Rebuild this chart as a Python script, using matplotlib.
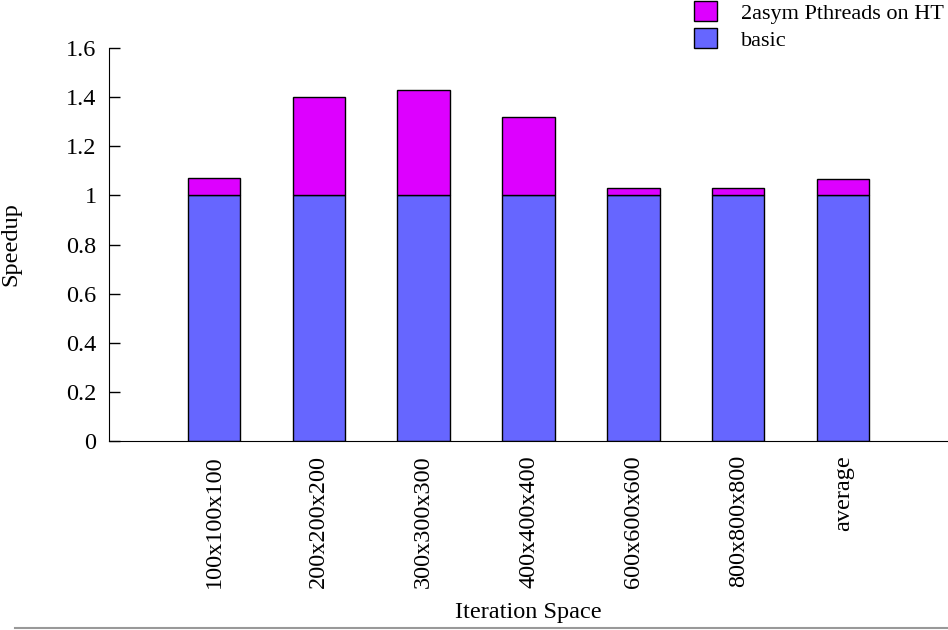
import numpy as np
import matplotlib.pyplot as plt
from matplotlib.lines import Line2D

plt.rcParams['font.family'] = ['Liberation Serif', 'DejaVu Serif']

categories = ['100x100x100', '200x200x200', '300x300x300', '400x400x400',
              '600x600x600', '800x800x800', 'average']
basic = [1.0, 1.0, 1.0, 1.0, 1.0, 1.0, 1.0]
total = [1.07, 1.40, 1.43, 1.32, 1.03, 1.03, 1.067]
extra = [t - b for t, b in zip(total, basic)]

fig = plt.figure(figsize=(9.48, 6.3), dpi=100)
ax = fig.add_axes([0.115, 0.30, 0.885, 0.6238])

x = np.arange(len(categories))
b1 = ax.bar(x, basic, width=0.5, color='#6666ff', edgecolor='black', linewidth=1, label='basic')
b2 = ax.bar(x, extra, width=0.5, bottom=basic, color='#dd00ff', edgecolor='black', linewidth=1,
            label='2asym Pthreads on HT')

ax.set_xlim(-1, 7)
ax.set_ylim(0, 1.6)
ax.set_yticks(np.arange(0, 1.61, 0.2))
ax.set_yticklabels(['0', '0.2', '0.4', '0.6', '0.8', '1', '1.2', '1.4', '1.6'])
ax.set_xticks(x)
ax.set_xticklabels(categories, rotation=90)
ax.tick_params(axis='y', direction='in', length=8, width=1, labelsize=17.5, pad=9)
ax.tick_params(axis='x', length=0, labelsize=17.5, pad=10)
ax.spines['top'].set_visible(False)
ax.spines['right'].set_visible(False)
ax.set_ylabel('Speedup', fontsize=17.5)
ax.set_xlabel('Iteration Space', fontsize=17.5, labelpad=10)
ax.yaxis.set_label_coords(-0.104, 0.5)

fig.legend([b2, b1], ['2asym Pthreads on HT', 'basic'], loc='upper right',
           bbox_to_anchor=(1.005, 1.012), borderaxespad=0.0, frameon=False, fontsize=16,
           handlelength=1.0, handleheight=1.0, handletextpad=1.1, labelspacing=0.2)

fig.add_artist(Line2D([0.016, 1.0], [0.003, 0.003], color='#999999', linewidth=1.5,
                      transform=fig.transFigure))

fig.savefig('out.png', dpi=100)
